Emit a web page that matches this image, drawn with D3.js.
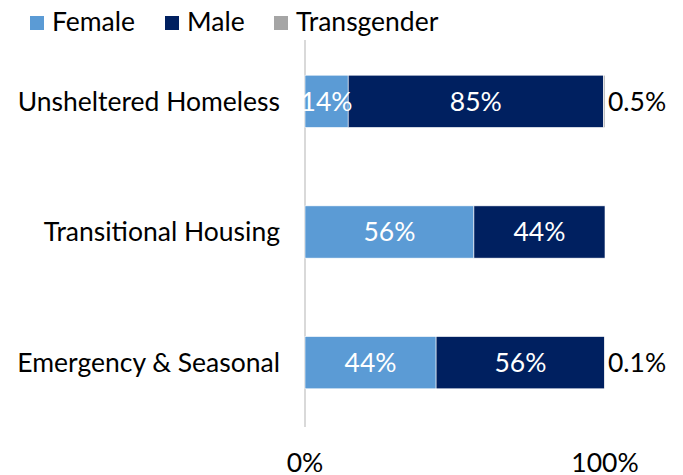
<!DOCTYPE html>
<html>
<head>
<meta charset="utf-8">
<script src="https://cdn.jsdelivr.net/npm/d3@7"></script>
<style>
  body { margin: 0; background: #fff; }
  text { font-family: Lato, "Open Sans", sans-serif; }
</style>
</head>
<body>
<div id="chart"></div>
<script>
// Data
const categories = ["Unsheltered Homeless", "Transitional Housing", "Emergency & Seasonal"];
const series = ["Female", "Male", "Transgender"];
const female = [14.4, 56.3, 43.7];
const male = [85.1, 43.7, 56.2];
const transgender = [0.5, 0, 0.1];
const tickLabels = ["0%", "100%"];
const colors = ["#5B9BD5", "#002060", "#A5A5A5"];

const width = 683;
const height = 475;
const fontSize = "26.5px";

const svg = d3.select("#chart")
  .append("svg")
  .attr("width", width)
  .attr("height", height);

const rows = categories.map((c, i) => ({
  category: c, Female: female[i], Male: male[i], Transgender: transgender[i]
}));

const stack = d3.stack().keys(series);
const layers = stack(rows);

const x = d3.scaleLinear().domain([0, 100]).range([305, 605]);
const y = d3.scaleBand()
  .domain(categories)
  .range([36, 428])
  .paddingInner(0.6)
  .paddingOuter(0.3);

// vertical axis line
svg.append("line")
  .attr("x1", x(0)).attr("x2", x(0))
  .attr("y1", 40).attr("y2", 427)
  .style("stroke", "#D9D9D9")
  .style("stroke-width", 2);

// bars
svg.selectAll("g.layer")
  .data(layers)
  .enter()
  .append("g")
  .attr("class", "layer")
  .style("fill", (d, i) => colors[i])
  .selectAll("rect")
  .data(d => d)
  .enter()
  .append("rect")
  .attr("x", d => x(d[0]))
  .attr("y", d => y(d.data.category))
  .attr("width", d => x(d[1]) - x(d[0]))
  .attr("height", y.bandwidth())
  .style("stroke", "#fff")
  .style("stroke-width", 0.6);

// inside labels for female and male
layers.slice(0, 2).forEach(layer => {
  svg.append("g")
    .selectAll("text")
    .data(layer)
    .enter()
    .append("text")
    .attr("x", d => (x(d[0]) + x(d[1])) / 2)
    .attr("y", d => y(d.data.category) + y.bandwidth() / 2)
    .attr("dy", "0.35em")
    .attr("text-anchor", "middle")
    .style("fill", "#fff")
    .style("font-size", fontSize)
    .text(d => Math.round(d[1] - d[0]) + "%");
});

// transgender labels outside
svg.append("g")
  .selectAll("text")
  .data(layers[2].filter(d => d[1] - d[0] > 0))
  .enter()
  .append("text")
  .attr("x", d => x(d[1]) + 3)
  .attr("y", d => y(d.data.category) + y.bandwidth() / 2)
  .attr("dy", "0.35em")
  .style("fill", "#000")
  .style("font-size", fontSize)
  .text(d => (d[1] - d[0]).toFixed(1) + "%");

// category labels
svg.append("g")
  .selectAll("text")
  .data(categories)
  .enter()
  .append("text")
  .attr("x", 280)
  .attr("y", d => y(d) + y.bandwidth() / 2)
  .attr("dy", "0.35em")
  .attr("text-anchor", "end")
  .style("fill", "#000")
  .style("font-size", fontSize)
  .text(d => d);

// x tick labels
svg.append("g")
  .selectAll("text")
  .data([0, 100])
  .enter()
  .append("text")
  .attr("x", d => x(d))
  .attr("y", 463)
  .attr("dy", "0.35em")
  .attr("text-anchor", "middle")
  .style("fill", "#000")
  .style("font-size", fontSize)
  .text((d, i) => tickLabels[i]);

// legend
const legendX = [30, 165, 274];
const legend = svg.append("g")
  .selectAll("g")
  .data(series)
  .enter()
  .append("g")
  .attr("transform", (d, i) => `translate(${legendX[i]},16)`);

legend.append("rect")
  .attr("width", 14)
  .attr("height", 14)
  .style("fill", (d, i) => colors[i]);

legend.append("text")
  .attr("x", 22)
  .attr("y", 6)
  .attr("dy", "0.35em")
  .style("fill", "#000")
  .style("font-size", fontSize)
  .text(d => d);
</script>
</body>
</html>
